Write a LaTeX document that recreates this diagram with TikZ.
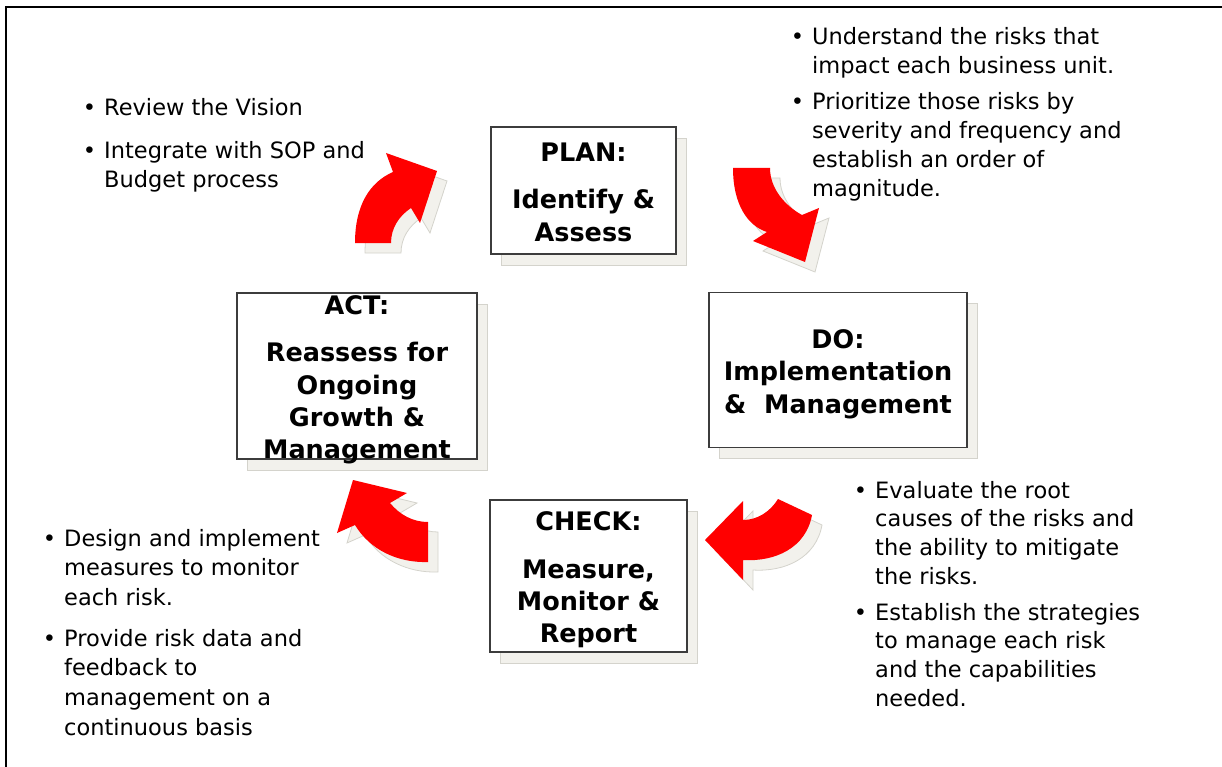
\documentclass[tikz,border=0pt]{standalone}
\usepackage{fontspec}
\setmainfont{DejaVu Sans}
\usetikzlibrary{shadows}

\definecolor{arrowred}{HTML}{FF0000}
\definecolor{shadowbeige}{HTML}{F2F1EC}
\definecolor{shadowline}{HTML}{D4D3CC}
\definecolor{boxline}{HTML}{3C3C3C}

\newcommand{\notefont}{\fontsize{22.5}{28.8}\selectfont}
\newcommand{\widenotefont}{\fontsize{22.5}{29.8}\selectfont}
\newcommand{\stagefont}{\fontsize{25.5}{32.3}\selectfont\bfseries}
\newcommand{\bitem}[1]{\llap{\textbullet\hspace{8pt}}\begin{tabular}[t]{@{}l@{}}#1\end{tabular}}
% text of a stage is not allowed to grow its box
\newcommand{\stagetext}[1]{\raisebox{-10.5pt}[0pt][0pt]{\begin{tabular}{@{}c@{}}#1\end{tabular}}}

\tikzset{
    stage/.style={draw=boxline, line width=1.3pt, fill=white,
        inner sep=0pt, font=\stagefont,
        general shadow={shadow xshift=10pt, shadow yshift=-11pt,
            fill=shadowbeige, draw=shadowline, line width=0.8pt}},
    note/.style={anchor=base west, inner sep=0pt, font=\notefont},
    bendarrow/.style={fill=arrowred,
        general shadow={shadow xshift=10pt, shadow yshift=-10pt,
            fill=shadowbeige, draw=shadowline, line width=0.8pt}}
}

\begin{document}
\begin{tikzpicture}[x=1pt, y=-1pt]
    \useasboundingbox (0,0) rectangle (1222,767);
    \draw[line width=2pt] (6,767) -- (6,7) -- (1222,7);

    % the four stages
    \node[stage, minimum width=185pt, minimum height=127pt] (plan) at (583.5,190.5)
        {\stagetext{PLAN:\\[15pt]Identify \&\\Assess}};
    \node[stage, minimum width=258pt, minimum height=155pt] (do) at (838,370)
        {\stagetext{DO:\\Implementation\\\&\ \ Management}};
    \node[stage, minimum width=197pt, minimum height=152pt] (check) at (588.5,576)
        {\stagetext{CHECK:\\[15pt]Measure,\\Monitor \&\\Report}};
    \node[stage, minimum width=240pt, minimum height=166pt] (act) at (357,376)
        {\stagetext{ACT:\\[15pt]Reassess for\\Ongoing\\Growth \&\\Management}};

    % curved arrows between the stages
    \fill[bendarrow] (355,243) .. controls (355,205) and (370,182) .. (393,172)
        -- (386,153) -- (437,171) -- (420,223) -- (411,208)
        .. controls (399,216) and (391,228) .. (391,243) -- cycle;
    \fill[bendarrow] (733,168) .. controls (733,205) and (748,226) .. (767,232)
        -- (753,241) -- (805,262) -- (819,208) -- (802,215)
        .. controls (784,205) and (770,188) .. (770,168) -- cycle;
    \fill[bendarrow] (778,499) -- (812,515) .. controls (806,548) and (775,562) .. (743,560)
        -- (743,580) -- (705,540) -- (743,501) -- (743,520)
        .. controls (757,520) and (770,512) .. (778,499) -- cycle;
    \fill[bendarrow] (428,562) .. controls (398,563) and (370,550) .. (355,525)
        -- (337,533) -- (353,480) -- (407,493) -- (390,503)
        .. controls (400,515) and (413,522) .. (428,522) -- cycle;

    % notes
    \node[note] (vision) at (104,116) {\bitem{Review the Vision}};
    \node[note] (sop) at (104,159) {\bitem{Integrate with SOP and\\Budget process}};

    \node[note] (impact) at (812,45) {\bitem{Understand the risks that\\impact each business unit.}};
    \node[note] (priority) at (812,110) {\bitem{Prioritize those risks by\\severity and frequency and\\establish an order of\\magnitude.}};

    \node[note] (causes) at (875,498) {\bitem{Evaluate the root\\causes of the risks and\\the ability to mitigate\\the risks.}};
    \node[note] (strategy) at (875,620) {\bitem{Establish the strategies\\to manage each risk\\and the capabilities\\needed.}};

    \node[note, font=\widenotefont] (measures) at (64,546) {\bitem{Design and implement\\measures to monitor\\each risk.}};
    \node[note, font=\widenotefont] (feedback) at (64,646) {\bitem{Provide risk data and\\feedback to\\management on a\\continuous basis}};
\end{tikzpicture}
\end{document}
